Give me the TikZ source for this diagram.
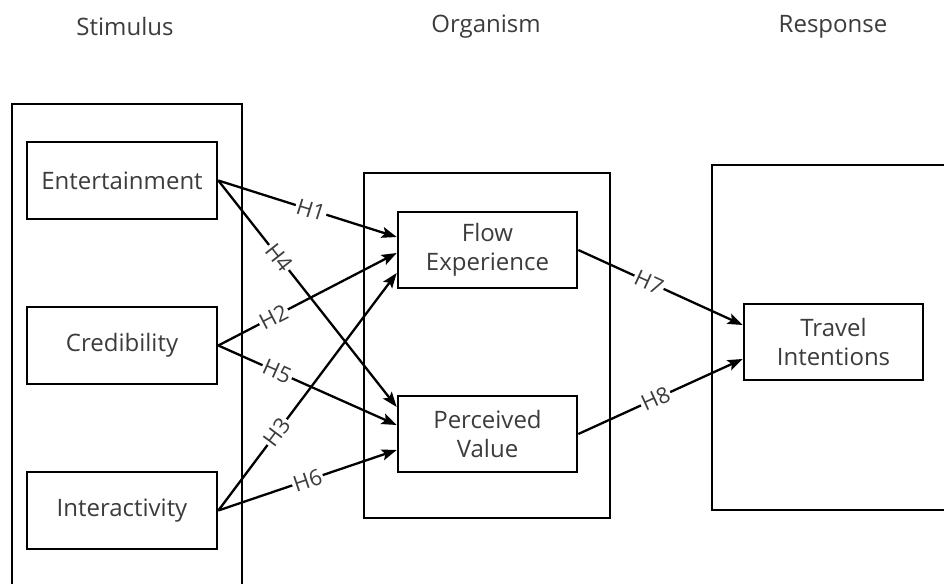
\documentclass[tikz,border=0pt]{standalone}
\usepackage{fontspec}
\setmainfont{Open Sans}
\usetikzlibrary{arrows.meta}
\definecolor{txt}{HTML}{3C3C3C}
\begin{document}
\begin{tikzpicture}[x=1pt,y=-1pt,
  box/.style={draw=black,line width=2.6pt,minimum width=190pt,minimum height=77pt,inner sep=0pt,align=center,font=\fontsize{24}{29}\selectfont,text=txt},
  mbox/.style={box,minimum width=179pt,minimum height=76pt},
  frame/.style={draw=black,line width=1.8pt},
  hdr/.style={font=\fontsize{24}{28}\selectfont,text=txt},
  arr/.style={line width=2.3pt,-{Stealth[length=15pt,width=11pt,inset=3pt]}},
  lab/.style={sloped,fill=white,inner sep=1.5pt,font=\fontsize{22}{24}\selectfont,text=txt}]
\useasboundingbox (0,0) rectangle (944,583);
\clip (0,0) rectangle (944,583);
\fill[white] (0,0) rectangle (944,583);
% headers
\node[hdr] (hs) at (125,27) {Stimulus};
\node[hdr] (ho) at (486,27) {Organism};
\node[hdr] (hr) at (833,27) {Response};
% frames
\draw[frame] (12,104) rectangle (242,610);
\draw[frame] (364,173) rectangle (610,518);
\draw[frame] (712,165) rectangle (970,510);
% nodes
\node[box] (ent) at (122,180.5) {Entertainment};
\node[box] (cre) at (122,345.5) {Credibility};
\node[box] (int) at (122,510.5) {Interactivity};
\node[mbox] (flow) at (487.5,250) {Flow\\Experience};
\node[mbox] (pv) at (487.5,434) {Perceived\\Value};
\node[mbox] (ti) at (833.5,342) {Travel\\Intentions};
% connectors
\draw[arr] (ent.east) -- node[lab,pos=0.52] {H1} ([yshift=13pt]flow.west);
\draw[arr] (ent.east) -- node[lab,pos=0.34] {H4} ([yshift=27pt]pv.west);
\draw[arr] (cre.east) -- node[lab,pos=0.31] {H2} ([yshift=-3pt]flow.west);
\draw[arr] (cre.east) -- node[lab,pos=0.33] {H5} ([yshift=9pt]pv.west);
\draw[arr] (int.east) -- node[lab,pos=0.33] {H3} ([yshift=-23pt]flow.west);
\draw[arr] (int.east) -- node[lab,pos=0.5] {H6} ([yshift=-16pt]pv.west);
\draw[arr] (flow.east) -- node[lab,pos=0.43] {H7} ([yshift=17pt]ti.west);
\draw[arr] (pv.east) -- node[lab,pos=0.47] {H8} ([yshift=-17pt]ti.west);
\end{tikzpicture}
\end{document}
